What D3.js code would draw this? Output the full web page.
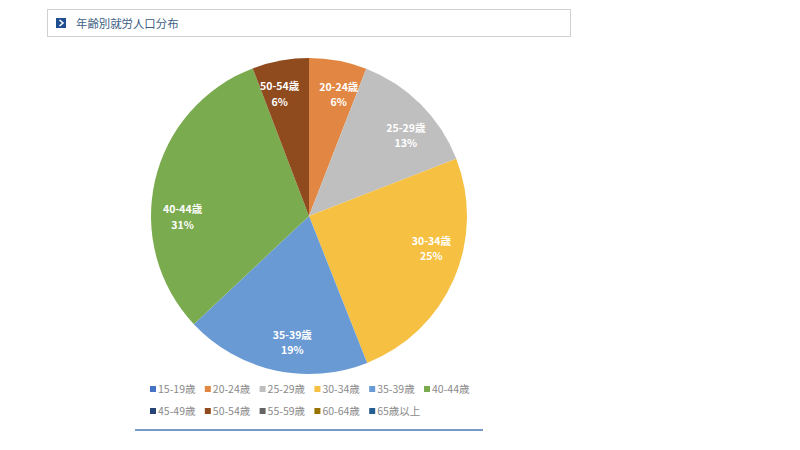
<!DOCTYPE html>
<html>
<head>
<meta charset="utf-8">
<title>年齢別就労人口分布</title>
<script src="https://d3js.org/d3.v7.min.js"></script>
<style>
  body { margin: 0; background: #fff; }
  svg { display: block; font-family: "Noto Sans CJK JP", "Noto Sans", sans-serif; }
</style>
</head>
<body>
<div id="chart"></div>
<script>
// data (percent of working population)
var categories = ["15-19歳", "20-24歳", "25-29歳", "30-34歳", "35-39歳", "40-44歳",
                  "45-49歳", "50-54歳", "55-59歳", "60-64歳", "65歳以上"];
var shares = [0, 5.9, 13.2, 24.9, 19.0, 31.2, 0, 5.8, 0, 0, 0];
var colors = ["#4472C4", "#E28743", "#BFBFBF", "#F6C143", "#6A9AD4", "#7BAB4F",
              "#264478", "#8F4A1E", "#636363", "#997300", "#255E91"];

var width = 800, height = 450;
var cx = 309, cy = 216, radius = 158;
// label placement tweak (degrees), like Excel's best-fit labels
var labelNudge = [0, 3, 5, -9, -5, -13, 0, -3, 0, 0, 0];

var svg = d3.select("#chart").append("svg")
  .attr("width", width)
  .attr("height", height);

// title box
svg.append("rect")
  .attr("x", 47.5).attr("y", 9.5)
  .attr("width", 523).attr("height", 27)
  .attr("fill", "#fff")
  .attr("stroke", "#d0d0d0");
svg.append("rect")
  .attr("x", 56).attr("y", 18)
  .attr("width", 10).attr("height", 10)
  .attr("fill", "#1f4f8f");
svg.append("path")
  .attr("d", "M59.5,20 L63,23 L59.5,26")
  .attr("fill", "none")
  .attr("stroke", "#fff")
  .attr("stroke-width", 1.6);
svg.append("text")
  .attr("x", 76).attr("y", 27.5)
  .attr("font-size", 11.4)
  .attr("fill", "#3f5f86")
  .text("年齢別就労人口分布");

// pie
var data = categories.map(function(c, i) {
  return { name: c, value: shares[i], color: colors[i], nudge: labelNudge[i] };
});

var pie = d3.pie().sort(null).value(function(d) { return d.value; });
var arc = d3.arc().innerRadius(0).outerRadius(radius);

var g = svg.append("g").attr("transform", "translate(" + cx + "," + cy + ")");
var arcs = pie(data).filter(function(d) { return d.data.value > 0; });

g.selectAll("path.slice")
  .data(arcs)
  .enter().append("path")
  .attr("class", "slice")
  .attr("d", arc)
  .attr("fill", function(d) { return d.data.color; });

function labelPos(d) {
  var a = (d.startAngle + d.endAngle) / 2 + d.data.nudge * Math.PI / 180;
  var r = radius * 0.8;
  return [r * Math.sin(a), -r * Math.cos(a)];
}

var labels = g.selectAll("text.lbl")
  .data(arcs)
  .enter().append("text")
  .attr("class", "lbl")
  .attr("transform", function(d) { return "translate(" + labelPos(d) + ")"; })
  .attr("text-anchor", "middle")
  .attr("font-size", 10.5)
  .attr("font-weight", "bold")
  .attr("fill", "#fff");
labels.append("tspan")
  .attr("x", 0).attr("dy", "-0.25em")
  .text(function(d) { return d.data.name; });
labels.append("tspan")
  .attr("x", 0).attr("dy", "1.45em")
  .text(function(d) { return Math.round(d.data.value) + "%"; });

// legend, two rows
var perRow = 6, step = 54.8, legX = 150, legY = 393, rowGap = 22;
var leg = svg.selectAll("g.leg")
  .data(data)
  .enter().append("g")
  .attr("class", "leg")
  .attr("transform", function(d, i) {
    return "translate(" + (legX + (i % perRow) * step) + "," + (legY + Math.floor(i / perRow) * rowGap) + ")";
  });
leg.append("rect")
  .attr("x", 0).attr("y", -7)
  .attr("width", 6).attr("height", 6)
  .attr("fill", function(d) { return d.color; });
leg.append("text")
  .attr("x", 8).attr("y", 0)
  .attr("font-size", 10.5)
  .attr("fill", "#8a8a8a")
  .text(function(d) { return d.name; });

// rule under legend
svg.append("line")
  .attr("x1", 135).attr("x2", 483)
  .attr("y1", 430).attr("y2", 430)
  .attr("stroke", "#4d79b0")
  .attr("stroke-width", 1.5);
</script>
</body>
</html>
